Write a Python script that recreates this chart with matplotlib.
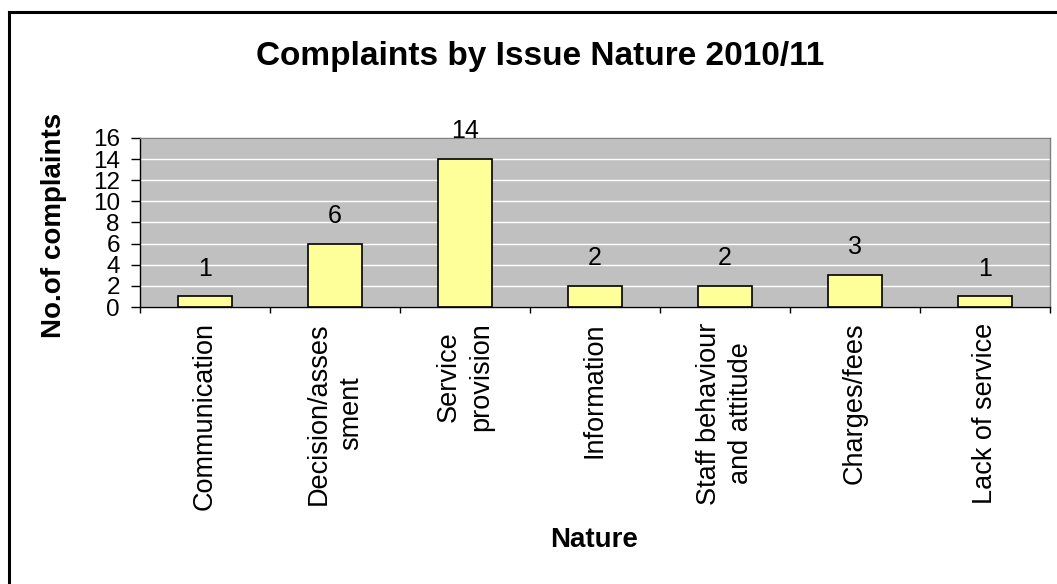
import matplotlib
matplotlib.use("Agg")
import matplotlib.pyplot as plt
from matplotlib.lines import Line2D

categories = ["Communication", "Decision/asses\nsment", "Service\nprovision", "Information",
              "Staff behaviour\nand attitude", "Charges/fees", "Lack of service"]
values = [1, 6, 14, 2, 2, 3, 1]
yticks = [0, 2, 4, 6, 8, 10, 12, 14, 16]
title = "Complaints by Issue Nature 2010/11"
xlabel = "Nature"
ylabel = "No.of complaints"

plt.rcParams['font.family'] = ['Liberation Sans', 'DejaVu Sans']

W, H = 1057, 584
fig = plt.figure(figsize=(W / 100, H / 100), dpi=100)
fig.patch.set_facecolor("white")

ax = fig.add_axes([140 / W, (H - 307) / H, 910 / W, 169 / H])
ax.set_facecolor("#C0C0C0")

x = list(range(len(categories)))
ax.bar(x, values, width=0.41, color="#FFFF99", edgecolor="black", linewidth=1.2, zorder=3)

ax.set_xlim(-0.5, len(categories) - 0.5)
ax.set_ylim(0, 16)
ax.set_yticks(yticks)
ax.set_yticklabels([str(v) for v in yticks], fontsize=17.5)
ax.yaxis.grid(True, color="white", linewidth=1.0, zorder=0)
ax.set_axisbelow(True)

# boundary ticks (major) and labels at centers (minor)
ax.set_xticks([i - 0.5 for i in range(len(categories) + 1)])
ax.set_xticklabels([])
ax.set_xticks(x, minor=True)
ax.set_xticklabels(categories, minor=True, rotation=90, fontsize=19.5,
                   va="top", ha="center", multialignment="center", linespacing=1.35)
ax.tick_params(axis="x", which="major", direction="out", length=4, width=1, color="black")
ax.tick_params(axis="x", which="minor", length=0, pad=11)
ax.tick_params(axis="y", direction="out", length=6.5, width=1, pad=8, color="black")

for side in ["left", "bottom"]:
    ax.spines[side].set_color("black")
    ax.spines[side].set_linewidth(1.0)
for side in ["top", "right"]:
    ax.spines[side].set_color("#808080")
    ax.spines[side].set_linewidth(1.0)

for xi, v in zip(x, values):
    ax.annotate(str(v), xy=(xi, v), xytext=(0, 15), textcoords="offset points",
                ha="center", va="baseline", fontsize=18, annotation_clip=False)

fig.text(540 / W, 1 - 57 / H, title, fontsize=24, fontweight="bold",
         ha="center", va="center")
fig.text(594 / W, 1 - 540 / H, xlabel, fontsize=20, fontweight="bold",
         ha="center", va="center")
fig.text(54 / W, 1 - 225 / H, ylabel, fontsize=20, fontweight="bold",
         ha="center", va="center", rotation=90)

# chart outer border (left and top visible)
fig.add_artist(Line2D([9 / W, 9 / W], [0, 1 - 12 / H], transform=fig.transFigure,
                      color="black", linewidth=2.2))
fig.add_artist(Line2D([9 / W, 1], [1 - 12 / H, 1 - 12 / H], transform=fig.transFigure,
                      color="black", linewidth=2.2))

fig.savefig("out.png", dpi=100, facecolor="white")
